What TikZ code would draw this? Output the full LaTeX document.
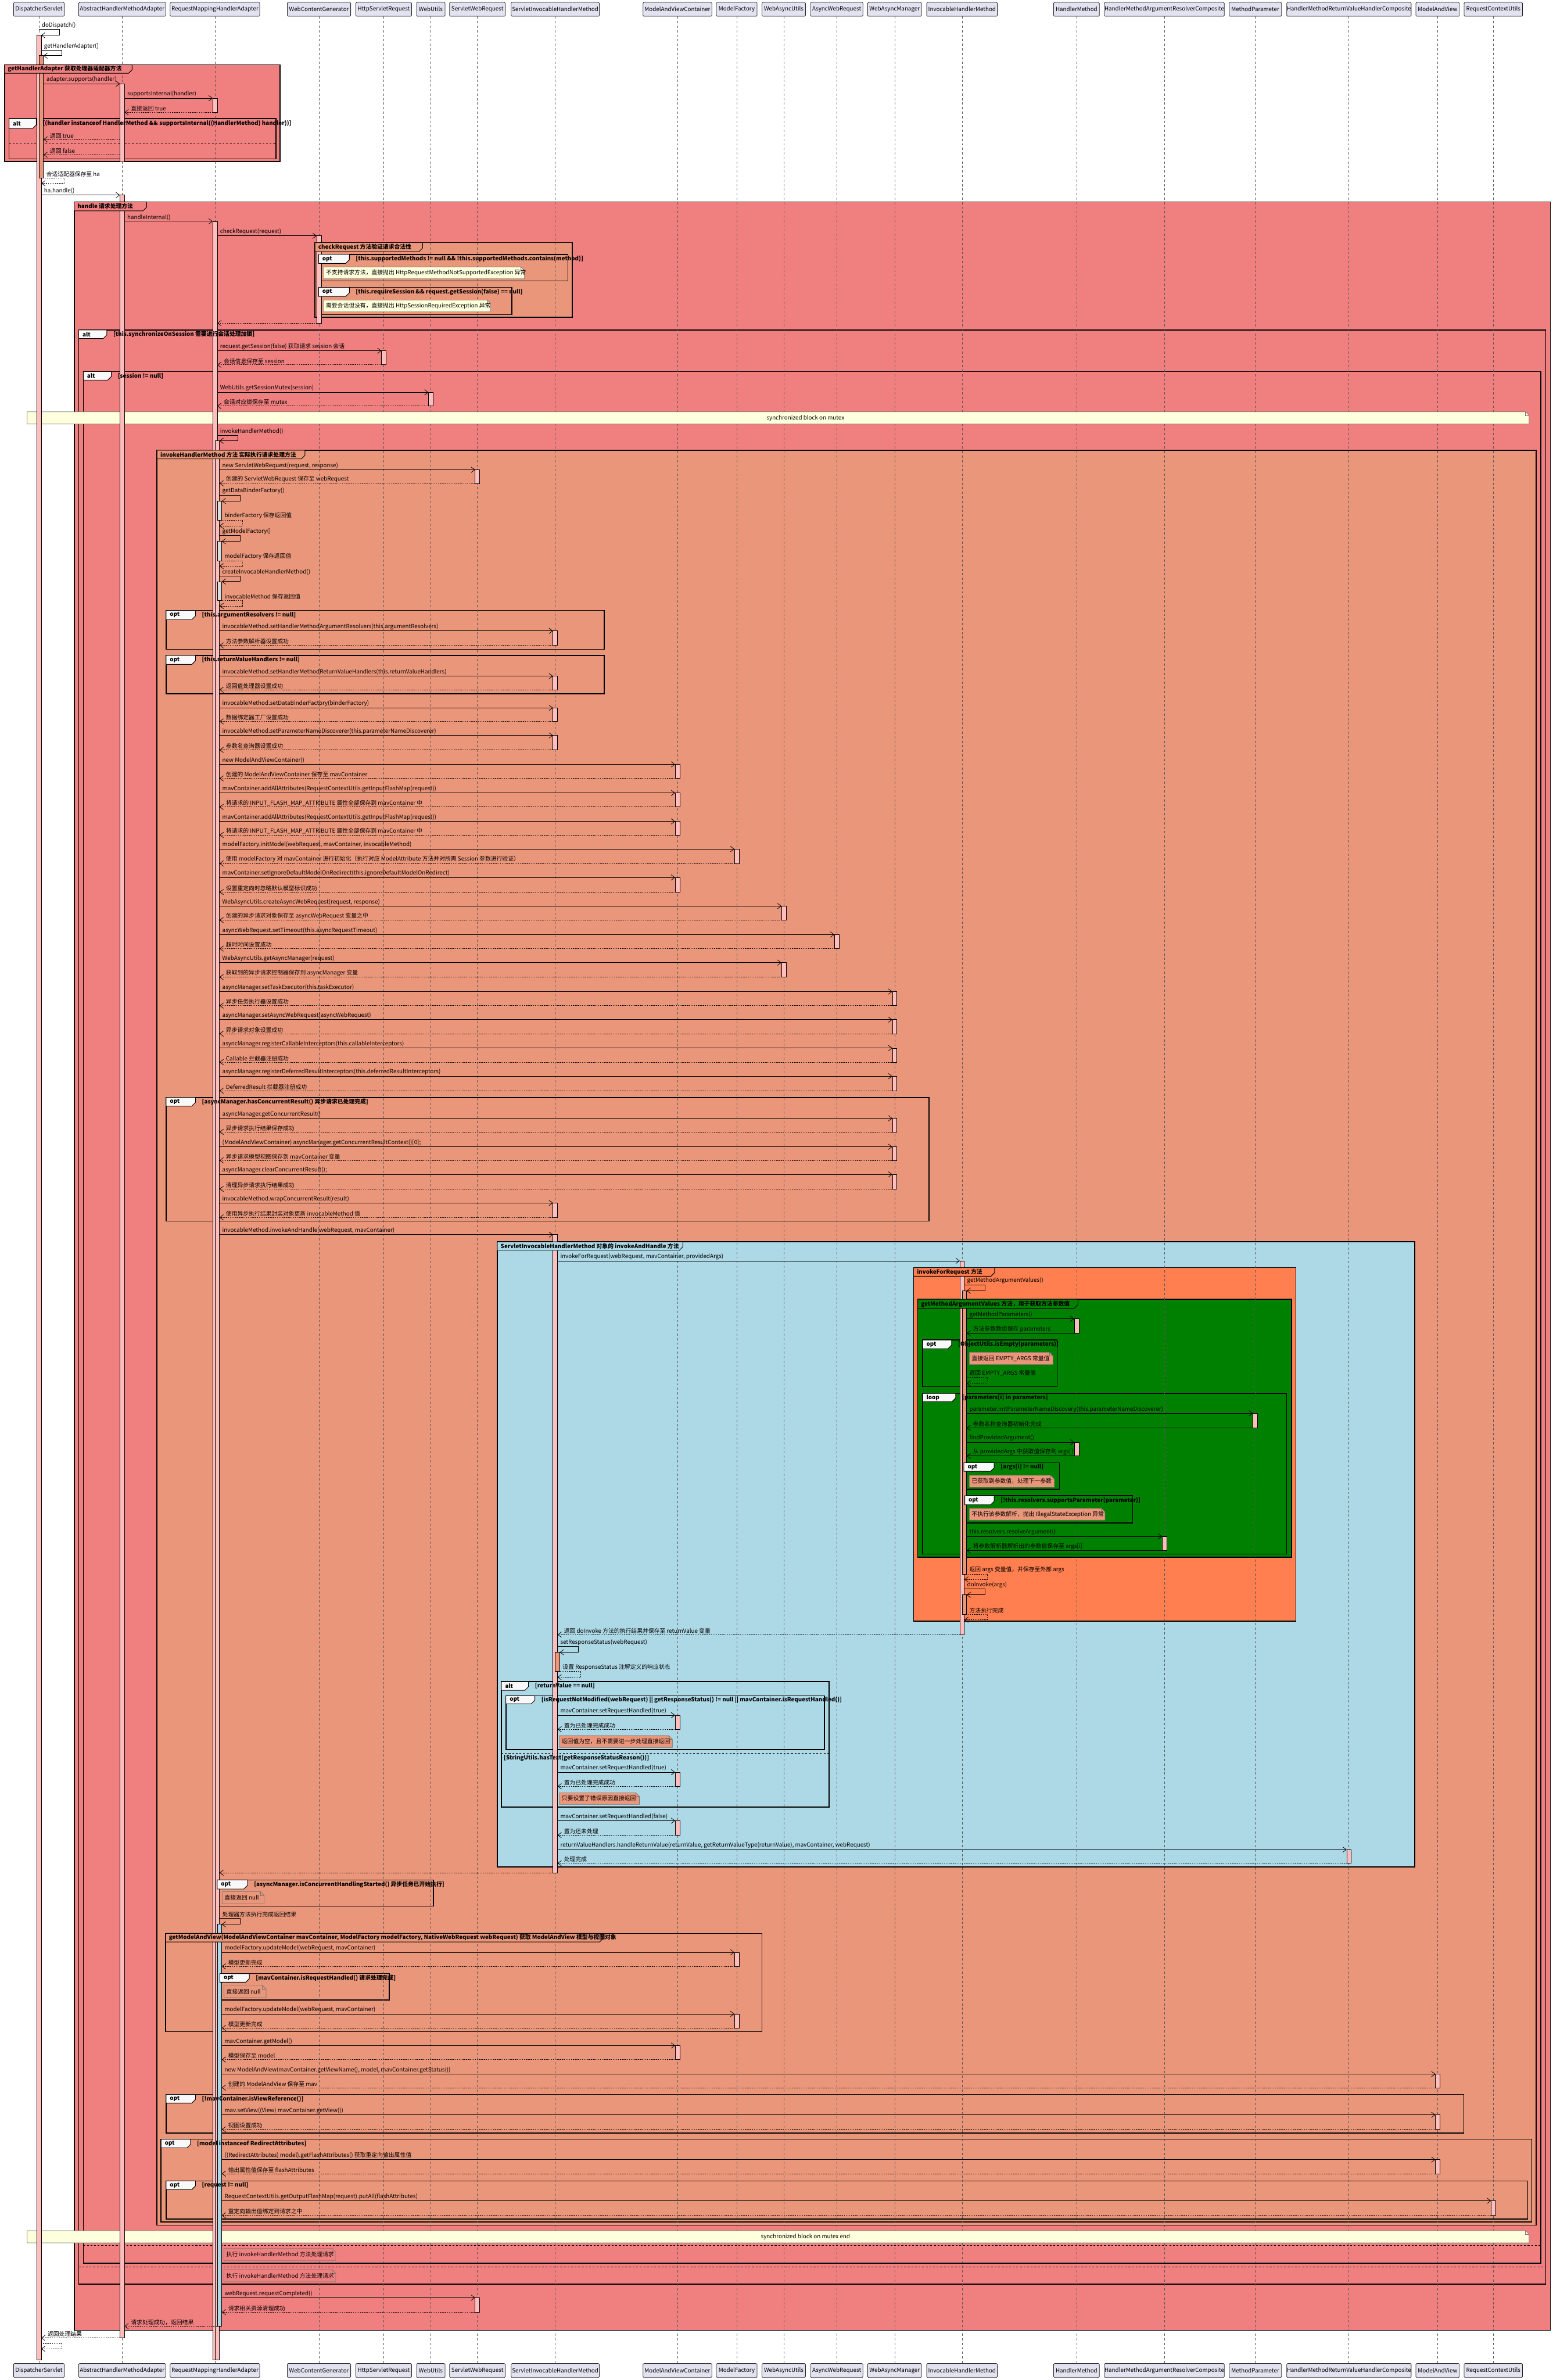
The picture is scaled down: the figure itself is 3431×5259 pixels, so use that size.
\documentclass[tikz,border=0pt]{standalone}
\usepackage{fontspec}
\setmainfont{Noto Sans CJK SC}
\usetikzlibrary{calc, arrows.meta}

\definecolor{grpcoral}{HTML}{F08080}
\definecolor{grpsalmon}{HTML}{E9967A}
\definecolor{grpblue}{HTML}{ADD8E6}
\definecolor{grporange}{HTML}{FF7F50}
\definecolor{grpgreen}{HTML}{008000}
\definecolor{headfill}{HTML}{E2E2F0}
\definecolor{barpink}{HTML}{FFBDBD}
\definecolor{bargrey}{HTML}{DCDCDC}
\definecolor{noteyellow}{HTML}{FEFFDD}
\definecolor{tabwhite}{HTML}{F9F9F9}
\definecolor{lifegrey}{HTML}{555555}

\pgfdeclarelayer{framebg}
\pgfdeclarelayer{lifelayer}
\pgfdeclarelayer{tablayer}
\pgfsetlayers{framebg,lifelayer,main,tablayer}

\tikzset{
  pbox/.style={draw=black!85, fill=headfill, line width=0.5pt, rounded corners=1pt,
    minimum height=15.5pt, inner sep=0pt, font=\fontsize{6.3}{7.5}\selectfont},
  lifeline/.style={lifegrey, line width=0.4pt, dash pattern=on 2.5pt off 2.5pt},
  fragline/.style={line width=1pt, black},
  tabline/.style={line width=0.6pt, black},
  fraglabel/.style={font=\fontsize{6.3}{7.5}\selectfont\bfseries, anchor=west, inner sep=0pt},
  msglabel/.style={font=\fontsize{6.3}{7.5}\selectfont, anchor=south west, inner sep=0pt},
  notetext/.style={font=\fontsize{6.3}{7.5}\selectfont, anchor=west, inner sep=0pt},
  callarrow/.style={line width=0.5pt, -{Straight Barb[length=4pt,width=6pt]}},
  retarrow/.style={callarrow, dash pattern=on 1pt off 1pt},
  backarrow/.style={callarrow},
  bar/.style={line width=0.4pt, draw=black},
  noteline/.style={line width=0.4pt, draw=black!55},
  sepline/.style={line width=0.5pt, dash pattern=on 2pt off 2pt},
}

% running number for node names
\newcount\seqitem
\newcommand{\seqnext}{\global\advance\seqitem by 1 \edef\seqcur{n\the\seqitem}}

% participant: name, x, box width, label
\newcommand{\seqparticipant}[4]{%
  \node[pbox, minimum width={#3*0.5pt}] (#1) at (#2,20.5) {#4};
  \node[pbox, minimum width={#3*0.5pt}] (#1-foot) at (#2,5238) {#4};}

% call: from, offset, to, offset, y, label
\newcommand{\seqcall}[6]{%
  \seqnext
  \draw[callarrow] ($(#1 |- 0,#5)+(#2,0)$) -- ($(#3 |- 0,#5)+(#4,0)$);
  \node[msglabel] (\seqcur) at ($(#1 |- 0,#5)+(#2,0)+(6,-2)$) {#6};}

% return: [style] from, offset, to, offset, y, label
\newcommand{\seqret}[7][retarrow]{%
  \seqnext
  \draw[#1] ($(#2 |- 0,#6)+(#3,0)$) -- ($(#4 |- 0,#6)+(#5,0)$);
  \node[msglabel] (\seqcur) at ($(#4 |- 0,#6)+(#5,0)+(14,-2)$) {#7};}

% self message: [style] name, start offset, end offset, y1, y2, label
\newcommand{\selfcall}[7][callarrow]{%
  \seqnext
  \draw[#1] ($(#2 |- 0,#5)+(#3,0)$) -- ++(46,0) |- ($(#2 |- 0,#6)+(#4,0)$);
  \node[msglabel] (\seqcur) at ($(#2 |- 0,#5)+(#3,0)+(6,-2)$) {#7};}

% activation bar: [fill] name, offset, y1, y2
\newcommand{\actbar}[5][barpink]{%
  \filldraw[bar, fill=#1] ($(#2 |- 0,#4)+({#3-5},0)$) rectangle ($(#2 |- 0,#5)+({#3+5},0)$);}

% named group: fill, x1, y1, x2, y2, tab x, tab y, label
\newcommand{\seqgroup}[8]{%
  \seqnext
  \begin{pgfonlayer}{framebg}
    \filldraw[fragline, fill=#1] (#2,#3) rectangle (#4,#5);
  \end{pgfonlayer}
  \begin{pgfonlayer}{tablayer}
    \filldraw[tabline, fill=#1] (#2,#3) -- (#6,#3) -- (#6,{#7-8}) -- ({#6-8},#7) -- (#2,#7) -- cycle;
    \node[fraglabel] (\seqcur) at ({#2+7},{(#3+#7)/2}) {#8};
  \end{pgfonlayer}}

% opt / alt / loop: x1, y1, x2, y2, tab x, tab y, keyword, guard
\newcommand{\seqfrag}[8]{%
  \seqnext
  \begin{pgfonlayer}{framebg}
    \draw[fragline] (#1,#2) rectangle (#3,#4);
  \end{pgfonlayer}
  \begin{pgfonlayer}{tablayer}
    \filldraw[tabline, fill=tabwhite] (#1,#2) -- (#5,#2) -- (#5,{#6-8}) -- ({#5-8},#6) -- (#1,#6) -- cycle;
    \node[fraglabel] (\seqcur-key) at ({#1+8},{(#2+#6)/2}) {#7};
    \node[fraglabel] (\seqcur) at ({#5+14},{(#2+#6)/2}) {#8};
  \end{pgfonlayer}}

% dashed else line of an alt
\newcommand{\seqelse}[3]{%
  \begin{pgfonlayer}{framebg}
    \draw[sepline] (#1,#3) -- (#2,#3);
  \end{pgfonlayer}}

% note: fill, x1, y1, x2, y2, text
\newcommand{\seqnote}[6]{%
  \seqnext
  \filldraw[noteline, fill=#1] (#2,#3) -- ({#4-8},#3) -- (#4,{#3+8}) -- (#4,#5) -- (#2,#5) -- cycle;
  \draw[noteline] ({#4-8},#3) |- (#4,{#3+8});
  \node[notetext] (\seqcur) at ({#2+5},{(#3+#5)/2}) {#6};}

\begin{document}
\begin{tikzpicture}[x=0.5pt, y=-0.5pt]
\useasboundingbox (0,0) rectangle (3431,5259);
\begin{pgfonlayer}{framebg}
  \fill[white] (0,0) rectangle (3431,5259);
\end{pgfonlayer}

% participants
\seqparticipant{ds}{86}{112}{DispatcherServlet}
\seqparticipant{ahma}{270}{192}{AbstractHandlerMethodAdapter}
\seqparticipant{rmha}{475}{198}{RequestMappingHandlerAdapter}
\seqparticipant{wcg}{705}{140}{WebContentGenerator}
\seqparticipant{hsr}{848}{123}{HttpServletRequest}
\seqparticipant{wu}{952}{63}{WebUtils}
\seqparticipant{swr}{1055}{123}{ServletWebRequest}
\seqparticipant{sihm}{1227}{195}{ServletInvocableHandlerMethod}
\seqparticipant{mavc}{1497}{152}{ModelAndViewContainer}
\seqparticipant{mf}{1628}{90}{ModelFactory}
\seqparticipant{wau}{1732}{96}{WebAsyncUtils}
\seqparticipant{awr}{1849}{116}{AsyncWebRequest}
\seqparticipant{wam}{1977}{119}{WebAsyncManager}
\seqparticipant{ihm}{2126}{156}{InvocableHandlerMethod}
\seqparticipant{hm}{2379}{101}{HandlerMethod}
\seqparticipant{hmarc}{2573}{265}{HandlerMethodArgumentResolverComposite}
\seqparticipant{mp}{2774}{116}{MethodParameter}
\seqparticipant{hmrvhc}{2981}{275}{HandlerMethodReturnValueHandlerComposite}
\seqparticipant{mav}{3177}{96}{ModelAndView}
\seqparticipant{rcu}{3300}{129}{RequestContextUtils}

% groups and fragments, outer first
\seqgroup{grpcoral}{10}{143}{619}{357}{292}{162}{getHandlerAdapter 获取处理器适配器方法}
\seqfrag{20}{262}{610}{351}{80}{284}{alt}{[(handler instanceof HandlerMethod \&\& supportsInternal((HandlerMethod) handler))]}
\seqelse{20}{610}{317}
\seqgroup{grpcoral}{164}{446}{3426}{5149}{324}{466}{handle 请求处理方法}
\seqgroup{grpsalmon}{696}{536}{1265}{701}{934}{556}{checkRequest 方法验证请求合法性}
\seqfrag{704}{562}{1255}{621}{772}{582}{opt}{[this.supportedMethods != null \&\& !this.supportedMethods.contains(method)]}
\seqfrag{704}{635}{1131}{695}{772}{655}{opt}{[this.requireSession \&\& request.getSession(false) == null]}
\seqfrag{174}{729}{3416}{5047}{236}{748}{alt}{[this.synchronizeOnSession 需要进行会话处理加锁]}
\seqelse{174}{3416}{5009}
\seqfrag{184}{821}{3405}{5001}{246}{840}{alt}{[session != null]}
\seqelse{184}{3405}{4962}
\seqgroup{grpsalmon}{347}{995}{3395}{4917}{674}{1014}{invokeHandlerMethod 方法 实际执行请求处理方法}
\seqfrag{367}{1349}{1335}{1435}{432}{1369}{opt}{[this.argumentResolvers != null]}
\seqfrag{367}{1448}{1335}{1533}{432}{1468}{opt}{[this.returnValueHandlers != null]}
\seqfrag{367}{2425}{2053}{2698}{432}{2444}{opt}{[asyncManager.hasConcurrentResult() 异步请求已处理完成]}
\seqgroup{grpblue}{1099}{2744}{3126}{4125}{1509}{2763}{ServletInvocableHandlerMethod 对象的 invokeAndHandle 方法}
\seqgroup{grporange}{2019}{2801}{2864}{3582}{2198}{2820}{invokeForRequest 方法}
\seqgroup{grpgreen}{2028}{2871}{2854}{3441}{2382}{2891}{getMethodArgumentValues 方法，用于获取方法参数值}
\seqfrag{2039}{2961}{2336}{3064}{2103}{2980}{opt}{[ObjectUtils.isEmpty(parameters)]}
\seqfrag{2039}{3079}{2843}{3434}{2112}{3097}{loop}{[parameters[i] in parameters]}
\seqfrag{2130}{3232}{2341}{3291}{2197}{3251}{opt}{[args[i] != null]}
\seqfrag{2132}{3305}{2503}{3365}{2197}{3325}{opt}{[!this.resolvers.supportsParameter(parameter)]}
\seqfrag{1108}{3716}{1832}{3993}{1168}{3735}{alt}{[returnValue == null]}
\seqelse{1108}{1832}{3874}
\begin{pgfonlayer}{tablayer}
  \node[fraglabel] (reasonguard) at (1113,3885) {[StringUtils.hasText(getResponseStatusReason())]};
\end{pgfonlayer}
\seqfrag{1118}{3747}{1822}{3866}{1182}{3765}{opt}{[isRequestNotModified(webRequest) || getResponseStatus() != null || mavContainer.isRequestHandled()]}
\seqfrag{480}{4154}{958}{4212}{547}{4174}{opt}{[asyncManager.isConcurrentHandlingStarted() 异步任务已开始执行]}
\seqgroup{grpsalmon}{366}{4272}{1684}{4489}{1333}{4291}{getModelAndView(ModelAndViewContainer mavContainer, ModelFactory modelFactory, NativeWebRequest webRequest) 获取 ModelAndView 模型与视图对象}
\seqfrag{486}{4361}{860}{4419}{551}{4380}{opt}{[mavContainer.isRequestHandled() 请求处理完成]}
\seqfrag{367}{4628}{3235}{4713}{432}{4647}{opt}{[!mavContainer.isViewReference()]}
\seqfrag{356}{4727}{3385}{4910}{421}{4746}{opt}{[model instanceof RedirectAttributes]}
\seqfrag{367}{4819}{3376}{4903}{432}{4838}{opt}{[request != null]}

% lifelines
\begin{pgfonlayer}{lifelayer}
\foreach \p in {ds,ahma,rmha,wcg,hsr,wu,swr,sihm,mavc,mf,wau,awr,wam,ihm,hm,hmarc,mp,hmrvhc,mav,rcu}
  \draw[lifeline] (\p.south) -- (\p-foot.north);
\end{pgfonlayer}

% notes
\seqnote{noteyellow}{715}{590}{1159}{616}{不支持请求方法，直接抛出 HttpRequestMethodNotSupportedException 异常}
\seqnote{noteyellow}{715}{663}{1084}{689}{需要会话但没有，直接抛出 HttpSessionRequiredException 异常}
\seqnote{noteyellow}{60}{910}{3379}{937}{}
\node[notetext, anchor=center] (syncstart) at (1780,923.5) {synchronized block on mutex};
\seqnote{grpsalmon}{2142}{2988}{2327}{3015}{直接返回 EMPTY\_ARGS 常量值}
\seqnote{grpsalmon}{2142}{3260}{2330}{3286}{已获取到参数值，处理下一参数}
\seqnote{grpsalmon}{2142}{3333}{2442}{3359}{不执行该参数解析，抛出 IllegalStateException 异常}
\seqnote{grpsalmon}{1236}{3835}{1486}{3861}{返回值为空，且不需要进一步处理直接返回}
\seqnote{grpsalmon}{1236}{3961}{1413}{3987}{只要设置了错误原因直接返回}
\seqnote{grpsalmon}{491}{4180}{584}{4207}{直接返回 null}
\seqnote{grpsalmon}{495}{4387}{588}{4414}{直接返回 null}
\seqnote{noteyellow}{60}{4929}{3379}{4956}{}
\node[notetext, anchor=center] (syncend) at (1780,4942.5) {synchronized block on mutex end};
\seqnote{grpcoral}{495}{4968}{742}{4995}{执行 invokeHandlerMethod 方法处理请求}
\seqnote{grpcoral}{495}{5015}{742}{5042}{执行 invokeHandlerMethod 方法处理请求}

% activation bars
\actbar{ds}{0}{78}{5215}
\actbar[grpsalmon]{ds}{5}{123}{393}
\actbar{ahma}{0}{185}{357}
\actbar{ahma}{0}{431}{5166}
\actbar{rmha}{0}{217}{248}
\actbar{rmha}{0}{489}{5215}
\actbar{rmha}{5}{974}{5215}
\foreach \a/\b in {1107/1149,1196/1239,1285/1327} {\actbar[bargrey]{rmha}{10}{\a}{\b}}
\actbar[grpblue]{rmha}{10}{4252}{5140}
\actbar{wcg}{0}{521}{714}
\actbar{hsr}{0}{775}{806}
\actbar{wu}{0}{867}{897}
\foreach \a/\b in {1038/1068,5077/5109} {\actbar{swr}{0}{\a}{\b}}
\foreach \a/\b in {1394/1426,1494/1524,1564/1594,1625/1657,2658/2690,2728/4138} {\actbar{sihm}{0}{\a}{\b}}
\actbar[grpsalmon]{sihm}{5}{3651}{3693}
\foreach \a/\b in {1689/1720,1752/1783,1815/1845,1939/1971,3790/3821,3916/3947,4023/4055,4520/4551} {\actbar{mavc}{0}{\a}{\b}}
\foreach \a/\b in {1876/1908,4314/4345,4450/4481} {\actbar{mf}{0}{\a}{\b}}
\foreach \a/\b in {2002/2033,2127/2159} {\actbar{wau}{0}{\a}{\b}}
\actbar{awr}{0}{2065}{2096}
\foreach \a/\b in {2191/2222,2253/2284,2316/2347,2378/2410,2471/2501,2534/2564,2595/2627} {\actbar{wam}{0}{\a}{\b}}
\actbar{ihm}{0}{2786}{3612}
\foreach \a/\b in {2852/3478,3524/3567} {\actbar[grpsalmon]{ihm}{5}{\a}{\b}}
\foreach \a/\b in {2914/2946,3187/3217} {\actbar{hm}{0}{\a}{\b}}
\actbar{hmarc}{0}{3395}{3426}
\actbar{mp}{0}{3123}{3155}
\actbar{hmrvhc}{0}{4087}{4117}
\foreach \a/\b in {4583/4613,4673/4705,4772/4803} {\actbar{mav}{0}{\a}{\b}}
\actbar{rcu}{0}{4863}{4895}

% getHandlerAdapter
\selfcall{ds}{0}{5}{65}{78}{doDispatch()}
\selfcall{ds}{5}{10}{111}{123}{getHandlerAdapter()}
\seqcall{ds}{10}{ahma}{-5}{185}{adapter.supports(handler)}
\seqcall{ahma}{5}{rmha}{-5}{217}{supportsInternal(handler)}
\seqret{rmha}{-5}{ahma}{5}{248}{直接返回 true}
\seqret{ahma}{-5}{ds}{10}{308}{返回 true}
\seqret{ahma}{-5}{ds}{10}{342}{返回 false}
\selfcall[retarrow]{ds}{10}{5}{393}{405}{合适适配器保存至 ha}

% handle
\seqcall{ds}{5}{ahma}{-5}{431}{ha.handle()}
\seqcall{ahma}{5}{rmha}{-5}{489}{handleInternal()}
\seqcall{rmha}{5}{wcg}{-5}{521}{checkRequest(request)}
\seqret{wcg}{-5}{rmha}{5}{714}{}
\seqcall{rmha}{5}{hsr}{-5}{775}{request.getSession(false) 获取请求 session 会话}
\seqret{hsr}{-5}{rmha}{5}{806}{会话信息保存至 session}
\seqcall{rmha}{5}{wu}{-5}{867}{WebUtils.getSessionMutex(session)}
\seqret{wu}{-5}{rmha}{5}{897}{会话对应锁保存至 mutex}
\selfcall{rmha}{5}{10}{962}{974}{invokeHandlerMethod()}

% invokeHandlerMethod
\seqcall{rmha}{10}{swr}{-5}{1038}{new ServletWebRequest(request, response)}
\seqret{swr}{-5}{rmha}{10}{1068}{创建的 ServletWebRequest 保存至 webRequest}
\selfcall{rmha}{10}{15}{1094}{1107}{getDataBinderFactory()}
\selfcall[retarrow]{rmha}{15}{10}{1149}{1162}{binderFactory 保存返回值}
\selfcall{rmha}{10}{15}{1183}{1196}{getModelFactory()}
\selfcall[retarrow]{rmha}{15}{10}{1239}{1251}{modelFactory 保存返回值}
\selfcall{rmha}{10}{15}{1273}{1285}{createInvocableHandlerMethod()}
\selfcall[retarrow]{rmha}{15}{10}{1327}{1339}{invocableMethod 保存返回值}
\seqcall{rmha}{10}{sihm}{-5}{1394}{invocableMethod.setHandlerMethodArgumentResolvers(this.argumentResolvers)}
\seqret{sihm}{-5}{rmha}{10}{1426}{方法参数解析器设置成功}
\seqcall{rmha}{10}{sihm}{-5}{1494}{invocableMethod.setHandlerMethodReturnValueHandlers(this.returnValueHandlers)}
\seqret{sihm}{-5}{rmha}{10}{1524}{返回值处理器设置成功}
\seqcall{rmha}{10}{sihm}{-5}{1564}{invocableMethod.setDataBinderFactory(binderFactory)}
\seqret{sihm}{-5}{rmha}{10}{1594}{数据绑定器工厂设置成功}
\seqcall{rmha}{10}{sihm}{-5}{1625}{invocableMethod.setParameterNameDiscoverer(this.parameterNameDiscoverer)}
\seqret{sihm}{-5}{rmha}{10}{1657}{参数名查询器设置成功}
\seqcall{rmha}{10}{mavc}{-5}{1689}{new ModelAndViewContainer()}
\seqret{mavc}{-5}{rmha}{10}{1720}{创建的 ModelAndViewContainer 保存至 mavContainer}
\seqcall{rmha}{10}{mavc}{-5}{1752}{mavContainer.addAllAttributes(RequestContextUtils.getInputFlashMap(request))}
\seqret{mavc}{-5}{rmha}{10}{1783}{将请求的 INPUT\_FLASH\_MAP\_ATTRIBUTE 属性全部保存到 mavContainer 中}
\seqcall{rmha}{10}{mavc}{-5}{1815}{mavContainer.addAllAttributes(RequestContextUtils.getInputFlashMap(request))}
\seqret{mavc}{-5}{rmha}{10}{1845}{将请求的 INPUT\_FLASH\_MAP\_ATTRIBUTE 属性全部保存到 mavContainer 中}
\seqcall{rmha}{10}{mf}{-5}{1876}{modelFactory.initModel(webRequest, mavContainer, invocableMethod)}
\seqret{mf}{-5}{rmha}{10}{1908}{使用 modelFactory 对 mavContainer 进行初始化（执行对应 ModelAttribute 方法并对所需 Session 参数进行验证）}
\seqcall{rmha}{10}{mavc}{-5}{1939}{mavContainer.setIgnoreDefaultModelOnRedirect(this.ignoreDefaultModelOnRedirect)}
\seqret{mavc}{-5}{rmha}{10}{1971}{设置重定向时忽略默认模型标识成功}
\seqcall{rmha}{10}{wau}{-5}{2002}{WebAsyncUtils.createAsyncWebRequest(request, response)}
\seqret{wau}{-5}{rmha}{10}{2033}{创建的异步请求对象保存至 asyncWebRequest 变量之中}
\seqcall{rmha}{10}{awr}{-5}{2065}{asyncWebRequest.setTimeout(this.asyncRequestTimeout)}
\seqret{awr}{-5}{rmha}{10}{2096}{超时时间设置成功}
\seqcall{rmha}{10}{wau}{-5}{2127}{WebAsyncUtils.getAsyncManager(request)}
\seqret{wau}{-5}{rmha}{10}{2159}{获取到的异步请求控制器保存到 asyncManager 变量}
\seqcall{rmha}{10}{wam}{-5}{2191}{asyncManager.setTaskExecutor(this.taskExecutor)}
\seqret{wam}{-5}{rmha}{10}{2222}{异步任务执行器设置成功}
\seqcall{rmha}{10}{wam}{-5}{2253}{asyncManager.setAsyncWebRequest(asyncWebRequest)}
\seqret{wam}{-5}{rmha}{10}{2284}{异步请求对象设置成功}
\seqcall{rmha}{10}{wam}{-5}{2316}{asyncManager.registerCallableInterceptors(this.callableInterceptors)}
\seqret{wam}{-5}{rmha}{10}{2347}{Callable 拦截器注册成功}
\seqcall{rmha}{10}{wam}{-5}{2378}{asyncManager.registerDeferredResultInterceptors(this.deferredResultInterceptors)}
\seqret{wam}{-5}{rmha}{10}{2410}{DeferredResult 拦截器注册成功}
\seqcall{rmha}{10}{wam}{-5}{2471}{asyncManager.getConcurrentResult()}
\seqret{wam}{-5}{rmha}{10}{2501}{异步请求执行结果保存成功}
\seqcall{rmha}{10}{wam}{-5}{2534}{(ModelAndViewContainer) asyncManager.getConcurrentResultContext()[0];}
\seqret{wam}{-5}{rmha}{10}{2564}{异步请求模型视图保存到 mavContainer 变量}
\seqcall{rmha}{10}{wam}{-5}{2595}{asyncManager.clearConcurrentResult();}
\seqret{wam}{-5}{rmha}{10}{2627}{清理异步请求执行结果成功}
\seqcall{rmha}{10}{sihm}{-5}{2658}{invocableMethod.wrapConcurrentResult(result)}
\seqret{sihm}{-5}{rmha}{10}{2690}{使用异步执行结果封装对象更新 invocableMethod 值}
\seqcall{rmha}{10}{sihm}{-5}{2728}{invocableMethod.invokeAndHandle(webRequest, mavContainer)}

% invokeAndHandle
\seqcall{sihm}{5}{ihm}{-5}{2786}{invokeForRequest(webRequest, mavContainer, providedArgs)}
\selfcall{ihm}{5}{10}{2839}{2852}{getMethodArgumentValues()}
\seqcall{ihm}{10}{hm}{-5}{2914}{getMethodParameters()}
\seqret[backarrow]{hm}{-5}{ihm}{10}{2946}{方法参数数组保存 parameters}
\selfcall[retarrow]{ihm}{10}{10}{3043}{3057}{返回 EMPTY\_ARGS 常量值}
\seqcall{ihm}{10}{mp}{-5}{3123}{parameter.initParameterNameDiscovery(this.parameterNameDiscoverer)}
\seqret[backarrow]{mp}{-5}{ihm}{10}{3155}{参数名称查询器初始化完成}
\seqcall{ihm}{10}{hm}{-5}{3187}{findProvidedArgument()}
\seqret[backarrow]{hm}{-5}{ihm}{10}{3217}{从 providedArgs 中获取值保存到 args[]}
\seqcall{ihm}{10}{hmarc}{-5}{3395}{this.resolvers.resolveArgument()}
\seqret[backarrow]{hmarc}{-5}{ihm}{10}{3426}{将参数解析器解析出的参数值保存至 args[i]}
\selfcall[retarrow]{ihm}{10}{5}{3478}{3490}{返回 args 变量值，并保存至外部 args}
\selfcall{ihm}{5}{10}{3511}{3524}{doInvoke(args)}
\selfcall[retarrow]{ihm}{10}{5}{3567}{3579}{方法执行完成}
\seqret{ihm}{-5}{sihm}{5}{3612}{返回 doInvoke 方法的执行结果并保存至 returnValue 变量}
\selfcall{sihm}{5}{10}{3638}{3651}{setResponseStatus(webRequest)}
\selfcall[retarrow]{sihm}{10}{5}{3693}{3706}{设置 ResponseStatus 注解定义的响应状态}
\seqcall{sihm}{5}{mavc}{-5}{3790}{mavContainer.setRequestHandled(true)}
\seqret{mavc}{-5}{sihm}{5}{3821}{置为已处理完成成功}
\seqcall{sihm}{5}{mavc}{-5}{3916}{mavContainer.setRequestHandled(true)}
\seqret{mavc}{-5}{sihm}{5}{3947}{置为已处理完成成功}
\seqcall{sihm}{5}{mavc}{-5}{4023}{mavContainer.setRequestHandled(false)}
\seqret{mavc}{-5}{sihm}{5}{4055}{置为还未处理}
\seqcall{sihm}{5}{hmrvhc}{-5}{4087}{returnValueHandlers.handleReturnValue(returnValue, getReturnValueType(returnValue), mavContainer, webRequest)}
\seqret{hmrvhc}{-5}{sihm}{5}{4117}{处理完成}
\seqret{sihm}{-5}{rmha}{10}{4138}{}

% getModelAndView
\selfcall{rmha}{10}{15}{4239}{4252}{处理器方法执行完成返回结果}
\seqcall{rmha}{15}{mf}{-5}{4314}{modelFactory.updateModel(webRequest, mavContainer)}
\seqret{mf}{-5}{rmha}{15}{4345}{模型更新完成}
\seqcall{rmha}{15}{mf}{-5}{4450}{modelFactory.updateModel(webRequest, mavContainer)}
\seqret{mf}{-5}{rmha}{15}{4481}{模型更新完成}
\seqcall{rmha}{15}{mavc}{-5}{4520}{mavContainer.getModel()}
\seqret{mavc}{-5}{rmha}{15}{4551}{模型保存至 model}
\seqcall{rmha}{15}{mav}{-5}{4583}{new ModelAndView(mavContainer.getViewName(), model, mavContainer.getStatus())}
\seqret{mav}{-5}{rmha}{15}{4613}{创建的 ModelAndView 保存至 mav}
\seqcall{rmha}{15}{mav}{-5}{4673}{mav.setView((View) mavContainer.getView())}
\seqret{mav}{-5}{rmha}{15}{4705}{视图设置成功}
\seqcall{rmha}{15}{mav}{-5}{4772}{((RedirectAttributes) model).getFlashAttributes() 获取重定向输出属性值}
\seqret{mav}{-5}{rmha}{15}{4803}{输出属性值保存至 flashAttributes}
\seqcall{rmha}{15}{rcu}{-5}{4863}{RequestContextUtils.getOutputFlashMap(request).putAll(flashAttributes)}
\seqret{rcu}{-5}{rmha}{15}{4895}{重定向输出值绑定到请求之中}

% finish
\seqcall{rmha}{15}{swr}{-5}{5077}{webRequest.requestCompleted()}
\seqret{swr}{-5}{rmha}{15}{5109}{请求相关资源清理成功}
\seqret{rmha}{5}{ahma}{5}{5140}{请求处理成功，返回结果}
\seqret{ahma}{-5}{ds}{5}{5166}{返回处理结果}
\selfcall[retarrow]{ds}{5}{5}{5178}{5190}{}
\end{tikzpicture}
\end{document}
